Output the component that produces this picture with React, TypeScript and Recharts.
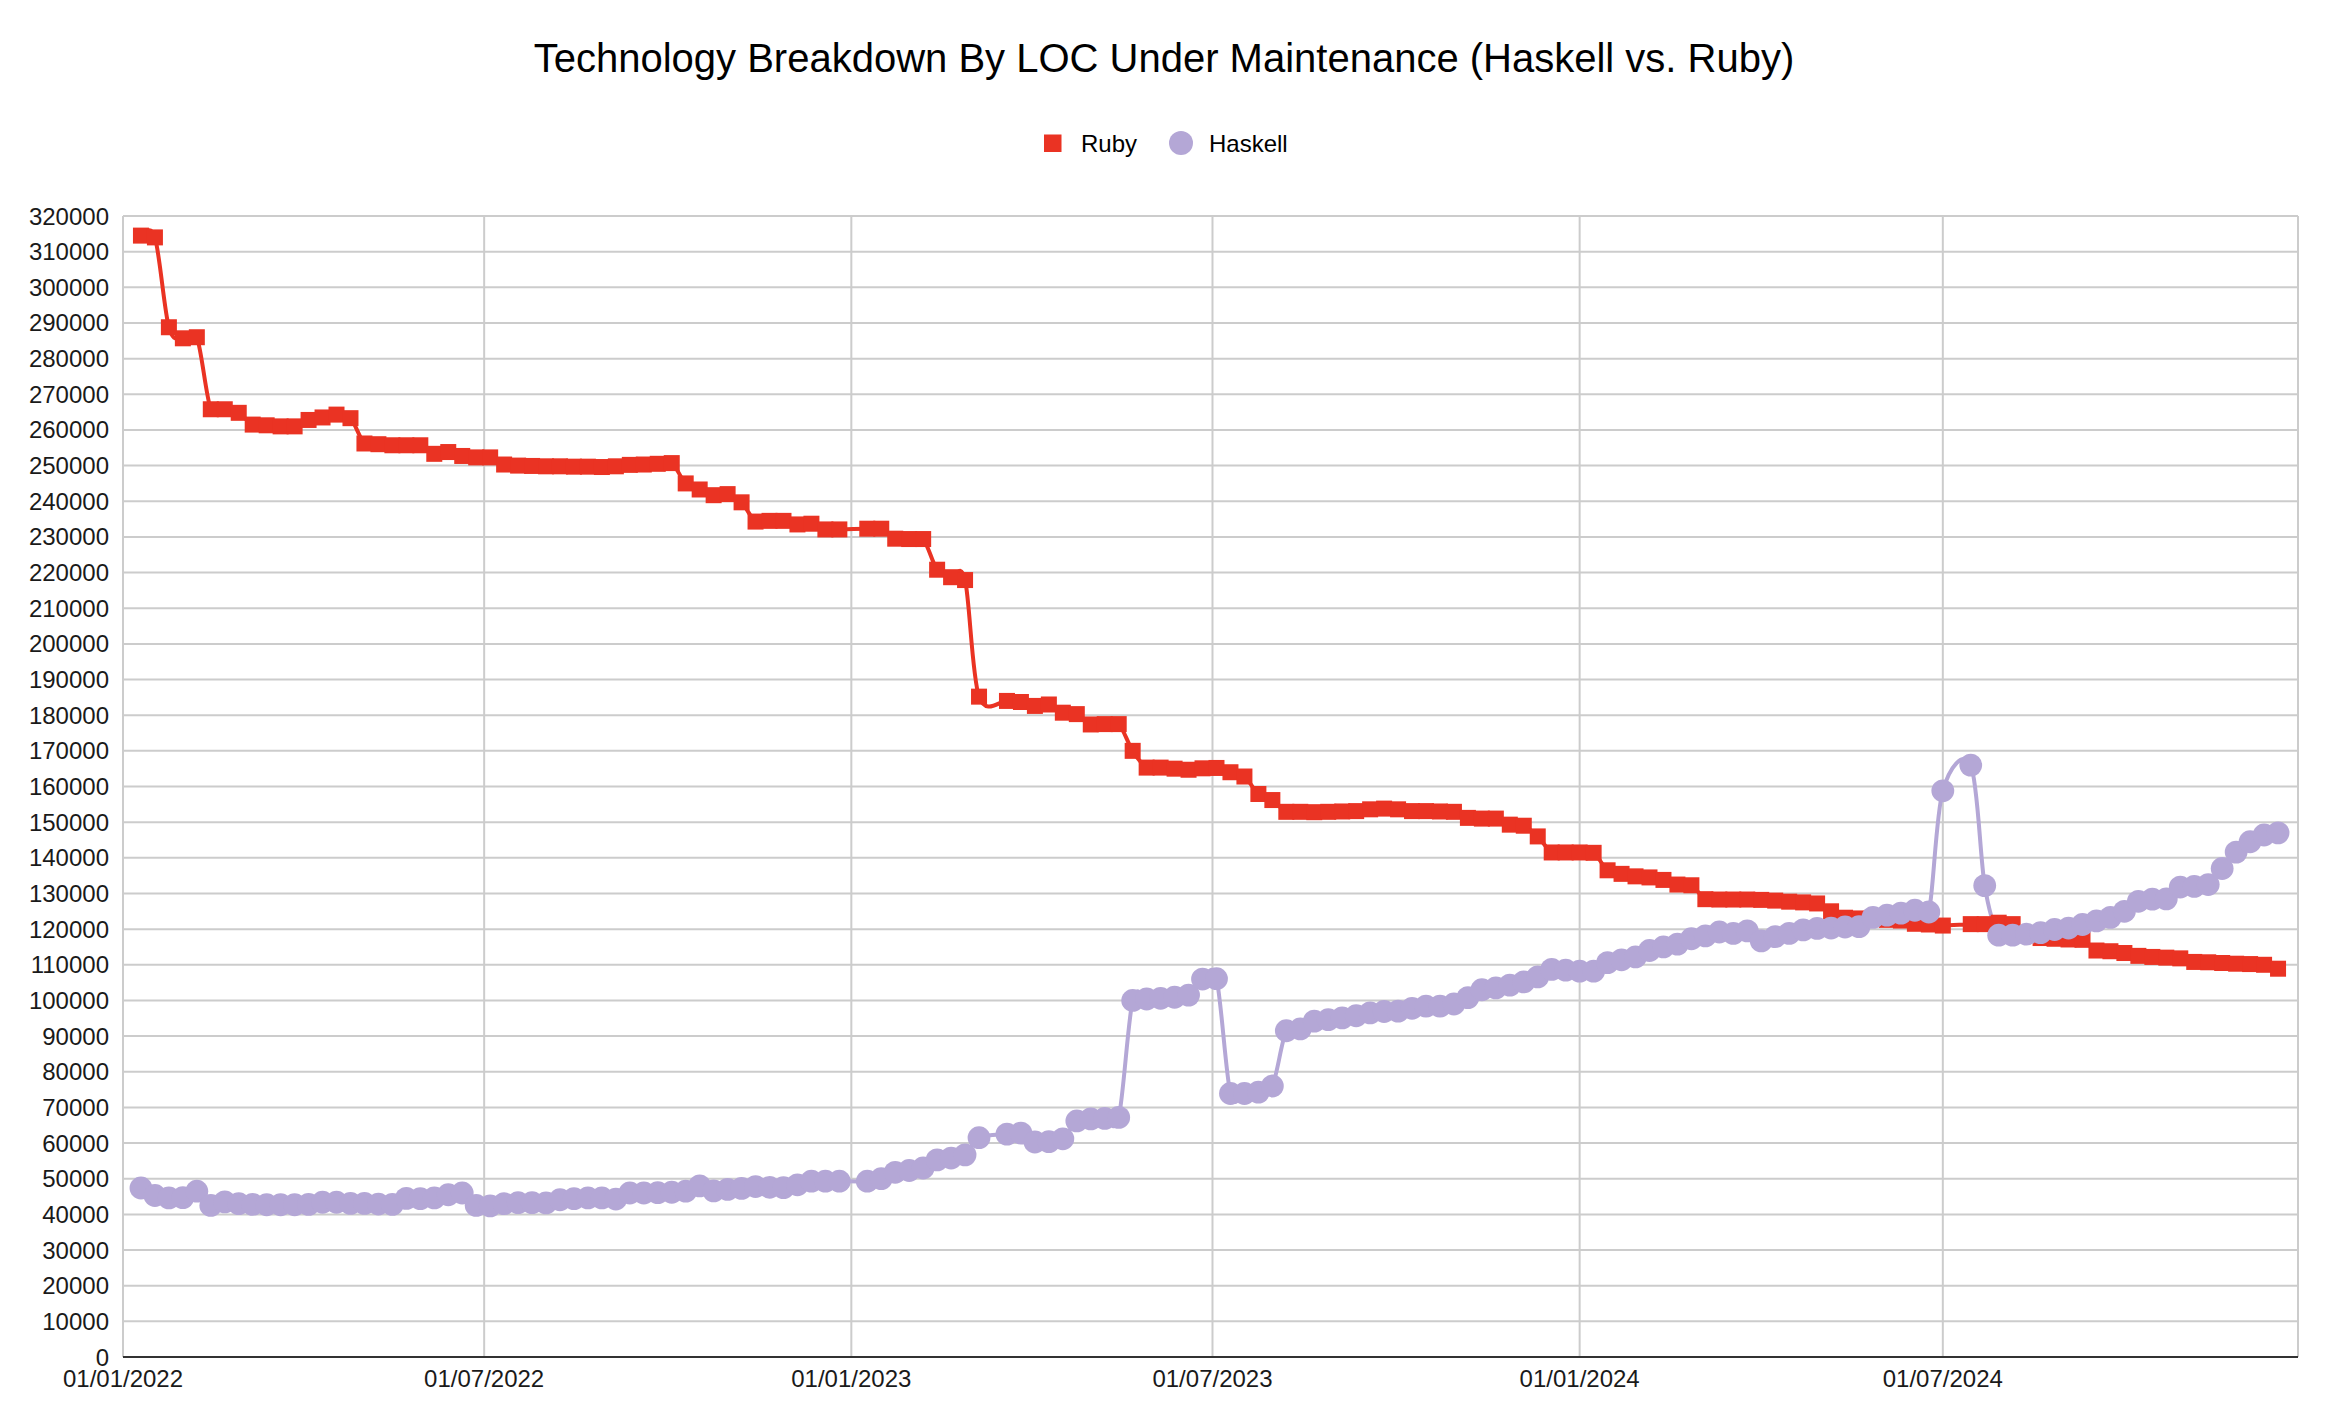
import React from 'react';
import { LineChart, Line, XAxis, YAxis, CartesianGrid } from 'recharts';

// ---------- data ----------
const dates: string[] = [
  '2022-01-10','2022-01-17','2022-01-24','2022-01-31','2022-02-07','2022-02-14','2022-02-21','2022-02-28',
  '2022-03-07','2022-03-14','2022-03-21','2022-03-28','2022-04-04','2022-04-11','2022-04-18','2022-04-25',
  '2022-05-02','2022-05-09','2022-05-16','2022-05-23','2022-05-30','2022-06-06','2022-06-13','2022-06-20',
  '2022-06-27','2022-07-04','2022-07-11','2022-07-18','2022-07-25','2022-08-01','2022-08-08','2022-08-15',
  '2022-08-22','2022-08-29','2022-09-05','2022-09-12','2022-09-19','2022-09-26','2022-10-03','2022-10-10',
  '2022-10-17','2022-10-24','2022-10-31','2022-11-07','2022-11-14','2022-11-21','2022-11-28','2022-12-05',
  '2022-12-12','2022-12-19','2022-12-26',
  '2023-01-09','2023-01-16','2023-01-23','2023-01-30','2023-02-06','2023-02-13','2023-02-20','2023-02-27',
  '2023-03-06',
  '2023-03-20','2023-03-27','2023-04-03','2023-04-10','2023-04-17','2023-04-24','2023-05-01','2023-05-08',
  '2023-05-15','2023-05-22','2023-05-29','2023-06-05','2023-06-12','2023-06-19','2023-06-26','2023-07-03',
  '2023-07-10','2023-07-17','2023-07-24','2023-07-31','2023-08-07','2023-08-14','2023-08-21','2023-08-28',
  '2023-09-04','2023-09-11','2023-09-18','2023-09-25','2023-10-02','2023-10-09','2023-10-16','2023-10-23',
  '2023-10-30','2023-11-06','2023-11-13','2023-11-20','2023-11-27','2023-12-04','2023-12-11','2023-12-18',
  '2023-12-25','2024-01-01','2024-01-08','2024-01-15','2024-01-22','2024-01-29','2024-02-05','2024-02-12',
  '2024-02-19','2024-02-26','2024-03-04','2024-03-11','2024-03-18','2024-03-25','2024-04-01','2024-04-08',
  '2024-04-15','2024-04-22','2024-04-29','2024-05-06','2024-05-13','2024-05-20','2024-05-27','2024-06-03',
  '2024-06-10','2024-06-17','2024-06-24','2024-07-01',
  '2024-07-15','2024-07-22','2024-07-29','2024-08-05','2024-08-12','2024-08-19','2024-08-26','2024-09-02',
  '2024-09-09','2024-09-16','2024-09-23','2024-09-30','2024-10-07','2024-10-14','2024-10-21','2024-10-28',
  '2024-11-04','2024-11-11','2024-11-18','2024-11-25','2024-12-02','2024-12-09','2024-12-16',
];

const rubyLoc: number[] = [
  314500, 314000, 288800, 285700, 286000, 265800, 265800, 264800,
  261500, 261300, 261000, 261000, 262800, 263500, 264300, 263300,
  256200, 256000, 255700, 255700, 255700, 253300, 253800, 252700,
  252300, 252300, 250300, 250000, 249900, 249800, 249800, 249700,
  249700, 249600, 249800, 250200, 250300, 250500, 250700, 245000,
  243300, 241700, 242000, 239700, 234300, 234500, 234500, 233500,
  233700, 232100, 232100,
  232300, 232300, 229500, 229400, 229400, 220800, 218700, 217900,
  185200,
  184000, 183700, 182600, 183000, 180700, 180300, 177400, 177500,
  177500, 170000, 165300, 165300, 165000, 164700, 165100, 165200,
  164000, 162800, 157900, 156200, 152900, 152900, 152800, 152900,
  153000, 153100, 153600, 153800, 153600, 153100, 153100, 153000,
  152900, 151200, 151000, 151000, 149300, 149000, 146000, 141500,
  141500, 141500, 141400, 136500, 135500, 134800, 134500, 133800,
  132500, 132300, 128400, 128300, 128300, 128300, 128200, 128000,
  127700, 127500, 127200, 125000, 123200, 123000, 122800, 122600,
  122400, 121500, 121300, 121000,
  121400, 121400, 121800, 121400, 118500, 117500, 117300, 117100,
  117000, 114000, 113800, 113300, 112500, 112200, 112000, 111800,
  110800, 110700, 110500, 110300, 110200, 110000, 108900,
];

const haskellLoc: number[] = [
  47400, 45300, 44600, 44700, 46500, 42500, 43500, 43000,
  42800, 42700, 42700, 42700, 42800, 43400, 43400, 43100,
  43100, 42900, 42800, 44500, 44400, 44600, 45500, 46000,
  42500, 42400, 43000, 43300, 43300, 43200, 44100, 44400,
  44600, 44600, 44300, 46000, 46000, 46100, 46200, 46500,
  48000, 46600, 47000, 47300, 47800, 47600, 47500, 48300,
  49300, 49300, 49300,
  49300, 50000, 51800, 52300, 53000, 55300, 55800, 56700,
  61500,
  62500, 62800, 60300, 60400, 61200, 66200, 66800, 66900,
  67200, 100000, 100400, 100600, 100900, 101500, 106000, 106100,
  73900, 73900, 74300, 76000, 91500, 92000, 94200, 94600,
  95100, 95700, 96500, 96900, 97000, 97800, 98400, 98400,
  99000, 100800, 103000, 103500, 104300, 105200, 106600, 108700,
  108500, 108200, 108200, 110600, 111400, 112200, 114000, 115000,
  115800, 117300, 118100, 119200, 118800, 119500, 116700, 117900,
  118800, 119800, 120200, 120300, 120600, 120700, 123300, 123900,
  124500, 125300, 124800, 158800,
  166000, 132200, 118300, 118300, 118600, 119000, 119900, 120300,
  121300, 122300, 123300, 125000, 127800, 128400, 128500, 131800,
  132000, 132500, 137000, 141600, 144500, 146400, 147000,
];

const yTicks: number[] = [
  0, 10000, 20000, 30000, 40000, 50000, 60000, 70000, 80000, 90000,
  100000, 110000, 120000, 130000, 140000, 150000, 160000, 170000, 180000, 190000,
  200000, 210000, 220000, 230000, 240000, 250000, 260000, 270000, 280000, 290000,
  300000, 310000, 320000,
];
const xTickDates: string[] = ['2022-01-01', '2022-07-01', '2023-01-01', '2023-07-01', '2024-01-01', '2024-07-01'];
const xDomainDates: string[] = ['2022-01-01', '2024-12-26'];

const TITLE = 'Technology Breakdown By LOC Under Maintenance (Haskell vs. Ruby)';
const RUBY = '#EA3323';
const HASKELL = '#B4A7D6';
const FONT = '"Liberation Sans", Arial, Helvetica, sans-serif';

// ---------- helpers ----------
const toTs = (d: string) => Date.parse(d + 'T00:00:00Z');
const data = dates.map((d, i) => ({ t: toTs(d), ruby: rubyLoc[i], haskell: haskellLoc[i] }));
const xTicks = xTickDates.map(toTs);
const xDomain = xDomainDates.map(toTs);

const fmtDate = (v: number) => {
  const d = new Date(v);
  const dd = String(d.getUTCDate()).padStart(2, '0');
  const mm = String(d.getUTCMonth() + 1).padStart(2, '0');
  return `${dd}/${mm}/${d.getUTCFullYear()}`;
};

// Catmull-Rom style smoothing (similar to the spreadsheet's smoothed lines)
const smoothCurve: any = (context: any) => {
  let pts: [number, number][] = [];
  return {
    areaStart() {},
    areaEnd() {},
    lineStart() { pts = []; },
    point(x: number, y: number) { pts.push([+x, +y]); },
    lineEnd() {
      const n = pts.length;
      if (!n) return;
      context.moveTo(pts[0][0], pts[0][1]);
      for (let i = 0; i < n - 1; i++) {
        const p0 = pts[i - 1] || pts[i];
        const p1 = pts[i];
        const p2 = pts[i + 1];
        const p3 = pts[i + 2] || p2;
        context.bezierCurveTo(
          p1[0] + (p2[0] - p0[0]) / 6, p1[1] + (p2[1] - p0[1]) / 6,
          p2[0] - (p3[0] - p1[0]) / 6, p2[1] - (p3[1] - p1[1]) / 6,
          p2[0], p2[1],
        );
      }
    },
  };
};

const renderRubyDot = (props: any) => {
  const { cx, cy, index } = props;
  if (cx == null || cy == null) return <g key={`rd${index}`} />;
  const s = 16;
  return <rect key={`rd${index}`} x={cx - s / 2} y={cy - s / 2} width={s} height={s} fill={RUBY} />;
};
const renderHaskellDot = (props: any) => {
  const { cx, cy, index } = props;
  if (cx == null || cy == null) return <g key={`hd${index}`} />;
  return <circle key={`hd${index}`} cx={cx} cy={cy} r={11.4} fill={HASKELL} />;
};

const tickStyle = { fontSize: 24, fill: '#1a1a1a', fontFamily: FONT };

export default function App() {
  return (
    <div style={{ position: 'absolute', left: 0, top: 0, width: 2326, height: 1404, background: '#ffffff', fontFamily: FONT }}>
      <svg width={2326} height={170} style={{ position: 'absolute', left: 0, top: 0 }}>
        <text x={1164} y={72} textAnchor="middle" fontSize={40} fill="#000" fontFamily={FONT}>{TITLE}</text>
        <rect x={1044} y={134.5} width={17.5} height={17.5} fill={RUBY} />
        <text x={1081} y={152} fontSize={24} fill="#000" fontFamily={FONT}>Ruby</text>
        <circle cx={1181} cy={143} r={12} fill={HASKELL} />
        <text x={1209} y={152} fontSize={24} fill="#000" fontFamily={FONT}>Haskell</text>
      </svg>
      <div style={{ position: 'absolute', left: 0, top: 0 }}>
        <LineChart width={2326} height={1404} data={data} margin={{ top: 216, right: 28, bottom: 0, left: 0 }}>
          <CartesianGrid stroke="#cccccc" strokeWidth={2} horizontal vertical />
          <XAxis
            dataKey="t"
            type="number"
            scale="time"
            domain={xDomain}
            allowDataOverflow
            ticks={xTicks}
            interval={0}
            tickFormatter={fmtDate}
            height={47}
            tickSize={0}
            tickMargin={13}
            tickLine={false}
            axisLine={{ stroke: '#333333', strokeWidth: 2 }}
            tick={tickStyle}
          />
          <YAxis
            type="number"
            domain={[0, 320000]}
            allowDataOverflow
            ticks={yTicks}
            interval={0}
            width={123}
            tickSize={0}
            tickMargin={14}
            tickLine={false}
            axisLine={false}
            tick={tickStyle}
          />
          <Line dataKey="ruby" type={smoothCurve} stroke={RUBY} strokeWidth={4} dot={false} activeDot={false} isAnimationActive={false} legendType="none" />
          <Line dataKey="haskell" type={smoothCurve} stroke={HASKELL} strokeWidth={4} dot={false} activeDot={false} isAnimationActive={false} legendType="none" />
          <Line dataKey="ruby" name="Ruby" type="linear" stroke="none" strokeWidth={0} dot={renderRubyDot} activeDot={false} isAnimationActive={false} />
          <Line dataKey="haskell" name="Haskell" type="linear" stroke="none" strokeWidth={0} dot={renderHaskellDot} activeDot={false} isAnimationActive={false} />
        </LineChart>
      </div>
    </div>
  );
}
